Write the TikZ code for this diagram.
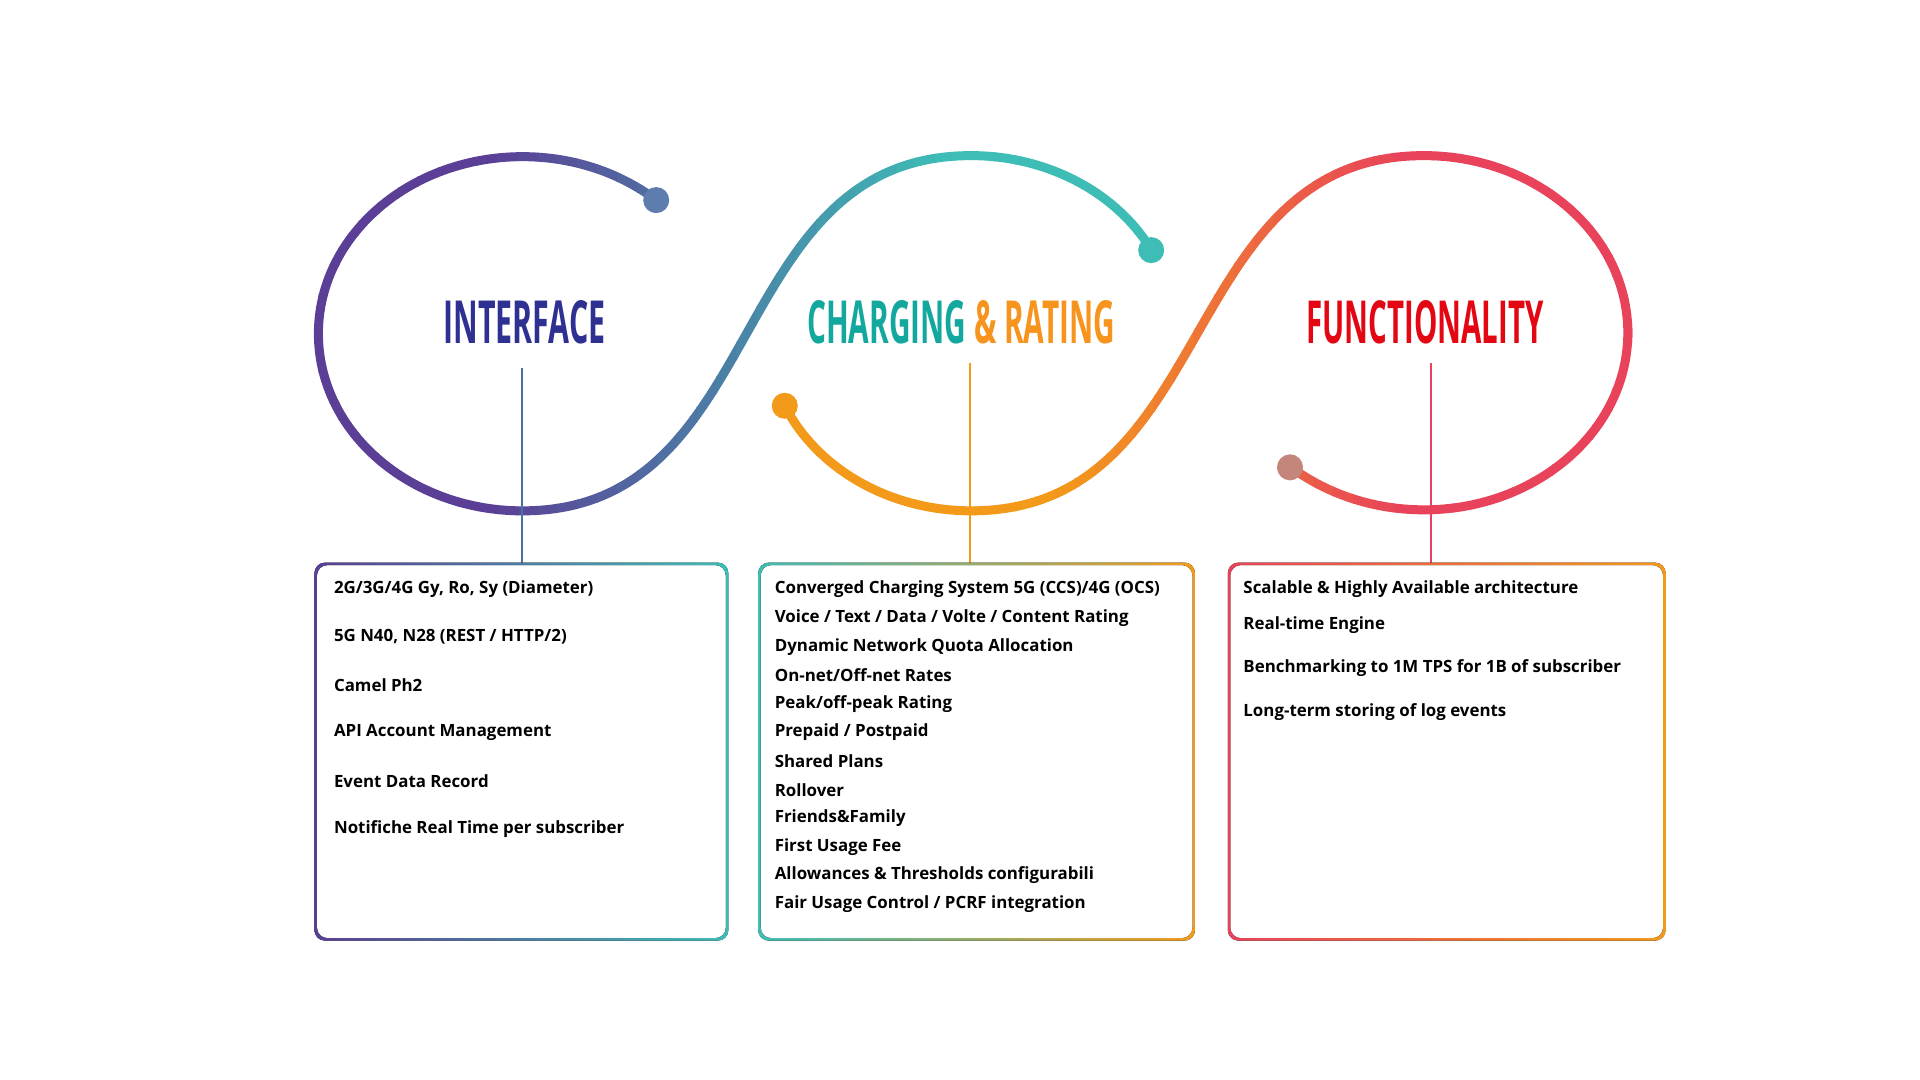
\documentclass[tikz,border=0pt]{standalone}
\usepackage{fontspec}
\setmainfont{Open Sans}
\usepackage{tikz}
\definecolor{cpurple}{HTML}{5B3E96}
\definecolor{cteal}{HTML}{3DBDB5}
\definecolor{corange}{HTML}{F39A1A}
\definecolor{cred}{HTML}{E8435A}
\definecolor{cnavy}{HTML}{2E3192}
\definecolor{ctealtxt}{HTML}{13A89E}
\definecolor{corangetxt}{HTML}{F7941D}
\definecolor{credtxt}{HTML}{E30613}
\definecolor{cstem}{HTML}{4A6FA5}
\tikzstyle{dotblue}=[circle, fill=cstem!90, inner sep=0pt, minimum size=0.26cm]
\tikzstyle{dotteal}=[circle, fill=cteal, inner sep=0pt, minimum size=0.26cm]
\tikzstyle{dotorange}=[circle, fill=corange, inner sep=0pt, minimum size=0.26cm]
\tikzstyle{dotrose}=[circle, fill={rgb,255:red,196;green,133;blue,122}, inner sep=0pt, minimum size=0.26cm]
\tikzstyle{item}=[anchor=west, inner sep=0pt, font=\fontsize{4.8pt}{5pt}\selectfont\bfseries]
\tikzstyle{title}=[inner sep=0pt]
\newcommand\upperpath{(659.5,879.3) arc[start angle=49,end angle=270,x radius=205,y radius=178]
  .. controls (775,567) and (726,924) .. (976,924)
  arc[start angle=90,end angle=28,x radius=205,y radius=178]}
\newcommand\lowerpath{(788.7,672.6) arc[start angle=204,end angle=270,x radius=205,y radius=178]
  .. controls (1226,567) and (1181,924) .. (1431,924)
  arc[start angle=90,end angle=-131,x radius=205,y radius=178]}
\begin{document}
\begin{tikzpicture}[x=0.01cm, y=0.01cm]
		   \useasboundingbox[fill=white] (0,0) rectangle (1920,1080);
		   \begin{scope}[scale=0.995, yshift=0.05cm]
			   % loops, coloured strip by strip
			   \foreach \i in {0,...,69} {
				   \pgfmathsetmacro\xa{300+20*\i}
				   \pgfmathsetmacro\ta{max(0,min(100,(\xa-480)/4.6))}
				   \pgfmathsetmacro\tb{max(0,min(100,(\xa-1050)/3.5))}
				   \begin{scope}
					   \clip (\xa,400) rectangle +(21,600);
					   \draw[line width=0.09cm, cteal!\ta!cpurple] \upperpath;
					   \draw[line width=0.09cm, cred!\tb!corange] \lowerpath;
				   \end{scope}
			   }
			   \node (dotA) at (659.5,879.3) [dotblue] {};
			   \node (dotB) at (1157,829) [dotteal] {};
			   \node (dotC) at (788.7,672.6) [dotorange] {};
			   \node (dotD) at (1296.5,610.7) [dotrose] {};

			   \node (tA) at (527,756) [title] {\resizebox{1.62cm}{0.43cm}{\bfseries\color{cnavy}INTERFACE}};
			   \node (tB) at (966,756) [title] {\resizebox{3.08cm}{0.43cm}{\bfseries{\color{ctealtxt}CHARGING} {\color{corangetxt}\& RATING}}};
			   \node (tC) at (1432,756) [title] {\resizebox{2.37cm}{0.43cm}{\bfseries\color{credtxt}FUNCTIONALITY}};

			   \coordinate (stemA) at (525,711);
			   \coordinate (stemB) at (975,716);
			   \coordinate (stemC) at (1438,716);
			   \coordinate (boxA) at (525,515);
			   \coordinate (boxB) at (975,515);
			   \coordinate (boxC) at (1438,515);
			   \path [draw=cstem, line width=0.02cm] (stemA) edge (boxA);
			   \path [draw=corange, line width=0.02cm] (stemB) edge (boxB);
			   \path [draw=cred, line width=0.02cm] (stemC) edge (boxC);

			   \fill[left color=cpurple, right color=cteal, even odd rule, rounded corners=3] (316,135) rectangle (732,515) (318.5,137.5) rectangle (729.5,512.5);
			   \fill[left color=cteal, right color=corange, even odd rule, rounded corners=3] (762,135) rectangle (1201,515) (764.5,137.5) rectangle (1198.5,512.5);
			   \fill[left color=cred, right color=corange, even odd rule, rounded corners=3] (1234,135) rectangle (1674,515) (1236.5,137.5) rectangle (1671.5,512.5);

			   \node (a1) at (335,488) [item] {2G/3G/4G Gy, Ro, Sy (Diameter)};
			   \node (a2) at (335,440) [item] {5G N40, N28 (REST / HTTP/2)};
			   \node (a3) at (335,392) [item] {Camel Ph2};
			   \node (a4) at (335,344) [item] {API Account Management};
			   \node (a5) at (335,295) [item] {Event Data Record};
			   \node (a6) at (335,247) [item] {Notifiche Real Time per subscriber};

			   \node (b1) at (778,488) [item] {Converged Charging System 5G (CCS)/4G (OCS)};
			   \node (b2) at (778,459.25) [item] {Voice / Text / Data / Volte / Content Rating};
			   \node (b3) at (778,430.5) [item] {Dynamic Network Quota Allocation};
			   \node (b4) at (778,401.75) [item] {On-net/Off-net Rates};
			   \node (b5) at (778,373) [item] {Peak/off-peak Rating};
			   \node (b6) at (778,344.25) [item] {Prepaid / Postpaid};
			   \node (b7) at (778,315.5) [item] {Shared Plans};
			   \node (b8) at (778,286.75) [item] {Rollover};
			   \node (b9) at (778,258) [item] {Friends\&Family};
			   \node (b10) at (778,229.25) [item] {First Usage Fee};
			   \node (b11) at (778,200.5) [item] {Allowances \& Thresholds configurabili};
			   \node (b12) at (778,171.75) [item] {Fair Usage Control / PCRF integration};

			   \node (c1) at (1249,488) [item] {Scalable \& Highly Available architecture};
			   \node (c2) at (1249,452) [item] {Real-time Engine};
			   \node (c3) at (1249,409) [item] {Benchmarking to 1M TPS for 1B of subscriber};
			   \node (c4) at (1249,365) [item] {Long-term storing of log events};
		   \end{scope}
	   \end{tikzpicture}
\end{document}
